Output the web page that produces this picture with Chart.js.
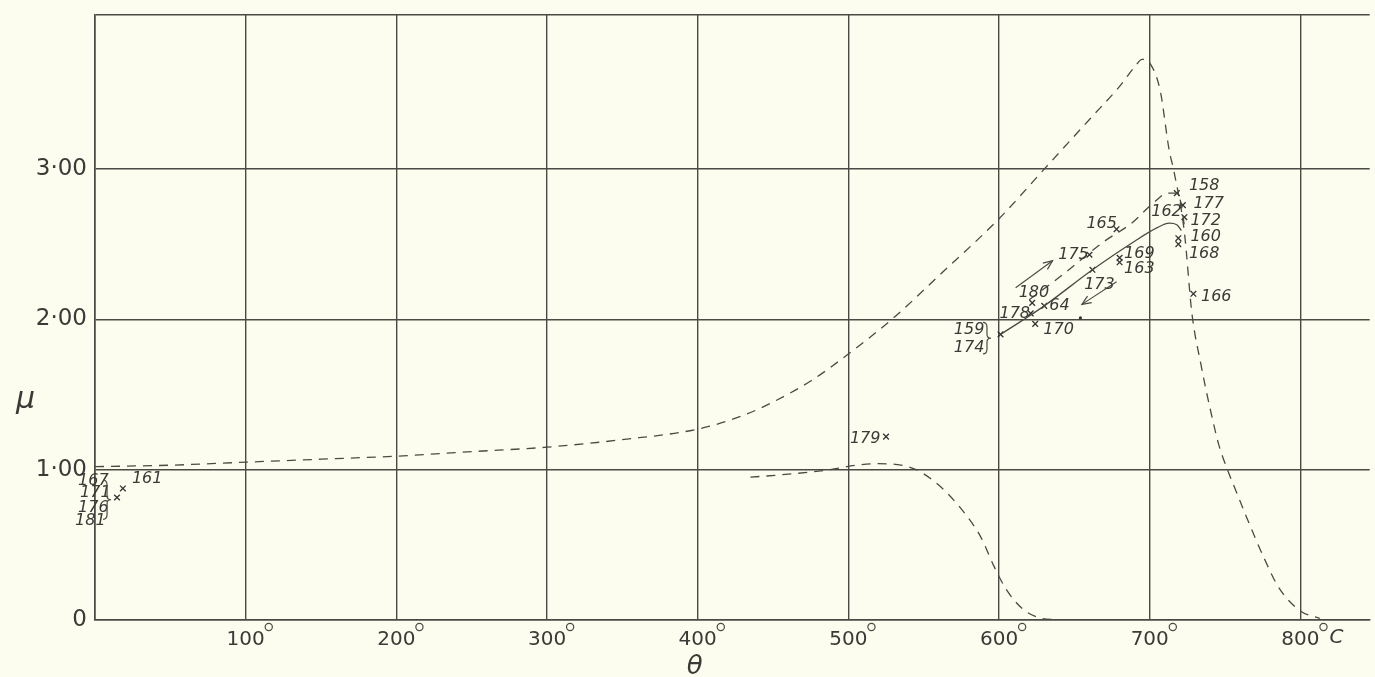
<!DOCTYPE html>
<html>
<head>
<meta charset="utf-8">
<script src="https://cdn.jsdelivr.net/npm/chart.js@4.4.1/dist/chart.umd.min.js"></script>
<style>
body { margin: 0; background: #fdfdef; }
canvas { display: block; }
</style>
</head>
<body>
<canvas id="grafico" width="1375" height="677"></canvas>
<script>
// axes: temperature theta (deg C) and permeability mu
var xTicks = [0, 100, 200, 300, 400, 500, 600, 700, 800];
var yTicks = [0, 1, 2, 3];
var xMax = 846;
var yMax = 4.025;

// upper dashed curve
var upperTheta = [0, 50, 100, 150, 200, 250, 300, 350, 400, 430, 450, 475, 500, 530, 560, 600, 630, 660, 680, 690, 695, 701, 707, 713, 716, 723, 728, 734, 740, 746, 752, 758, 764, 776, 786, 800, 813];
var upperMu    = [1.02, 1.03, 1.05, 1.07, 1.09, 1.12, 1.15, 1.20, 1.27, 1.36, 1.45, 1.59, 1.77, 2.01, 2.29, 2.67, 3.00, 3.33, 3.55, 3.68, 3.73, 3.69, 3.52, 3.12, 2.99, 2.58, 2.04, 1.70, 1.41, 1.16, 0.99, 0.84, 0.69, 0.41, 0.21, 0.06, 0.01];

// lower dashed curve
var lowerTheta = [435, 460, 488, 505, 520, 535, 545, 556, 566, 578, 588, 597, 605, 615, 625, 640];
var lowerMu    = [0.95, 0.97, 1.00, 1.03, 1.04, 1.03, 1.00, 0.93, 0.84, 0.70, 0.55, 0.35, 0.20, 0.08, 0.02, 0.0];

// middle dashed curve (162)
var midTheta = [620, 640, 670, 688, 703, 712, 718, 721, 723];
var midMu    = [2.13, 2.28, 2.52, 2.64, 2.78, 2.84, 2.84, 2.76, 2.62];

// solid curve
var solidTheta = [601, 615, 630, 662, 690, 705, 713, 718, 721];
var solidMu    = [1.90, 1.99, 2.09, 2.33, 2.52, 2.61, 2.64, 2.63, 2.59];

// observations (x marks)
var markTheta = [18.5, 14.6, 525, 601, 621, 622, 630, 624, 660, 662, 680, 680, 678, 718, 722, 723, 719, 719, 729];
var markMu    = [0.875, 0.815, 1.22, 1.90, 2.04, 2.11, 2.09, 1.97, 2.43, 2.33, 2.41, 2.38, 2.60, 2.84, 2.76, 2.68, 2.54, 2.50, 2.17];

// heating / cooling arrows
var arrowUpTheta = [611, 635.5];
var arrowUpMu = [2.21, 2.39];
var arrowDownTheta = [678, 655];
var arrowDownMu = [2.25, 2.10];

// small dot
var dotTheta = [654];
var dotMu = [2.01];

// specimen numbers
var labelText  = ['161', '167', '171', '176', '181', '179', '159', '174', '178', '180', '64', '170', '175', '173', '169', '163', '165', '162', '158', '177', '172', '160', '168', '166'];
var labelTheta = [24.5, -11.2, -9.9, -11.2, -13.2, 501, 570, 570, 600.3, 613, 633.4, 629.4, 639.3, 656.5, 683, 683, 658, 701, 726, 729, 727, 727, 726, 734];
var labelMu    = [0.91, 0.90, 0.82, 0.72, 0.63, 1.18, 1.90, 1.78, 2.01, 2.15, 2.06, 1.90, 2.40, 2.20, 2.41, 2.31, 2.61, 2.69, 2.86, 2.74, 2.63, 2.52, 2.41, 2.12];

// braces: theta, mu top, mu bottom
var braceTheta = [8, 592];
var braceTop = [0.93, 1.98];
var braceBottom = [0.67, 1.77];

var INK = '#4a4a44';
var FONT = "'DejaVu Sans', sans-serif";

function pts(xs, ys) {
    return xs.map(function (v, i) { return { x: v, y: ys[i] }; });
}

function drawBrace(ctx, cx, top, bottom) {
    var mid = (top + bottom) / 2;
    ctx.beginPath();
    ctx.moveTo(cx - 4, top);
    ctx.quadraticCurveTo(cx, top, cx, top + 5);
    ctx.lineTo(cx, mid - 4);
    ctx.quadraticCurveTo(cx, mid, cx + 4, mid);
    ctx.quadraticCurveTo(cx, mid, cx, mid + 4);
    ctx.lineTo(cx, bottom - 5);
    ctx.quadraticCurveTo(cx, bottom, cx - 4, bottom);
    ctx.stroke();
}

function arrowHead(ctx, x0, y0, x1, y1) {
    var a = Math.atan2(y1 - y0, x1 - x0);
    var L = 10;
    ctx.beginPath();
    ctx.moveTo(x1 - L * Math.cos(a - 0.4), y1 - L * Math.sin(a - 0.4));
    ctx.lineTo(x1, y1);
    ctx.lineTo(x1 - L * Math.cos(a + 0.4), y1 - L * Math.sin(a + 0.4));
    ctx.stroke();
}

var extras = {
    id: 'extras',
    beforeDraw: function (chart) {
        var ctx = chart.ctx;
        ctx.save();
        ctx.fillStyle = '#fdfdef';
        ctx.fillRect(0, 0, chart.width, chart.height);
        ctx.restore();
    },
    afterDraw: function (chart) {
        var ctx = chart.ctx, sx = chart.scales.x, sy = chart.scales.y;
        ctx.save();
        ctx.strokeStyle = INK;
        ctx.fillStyle = '#3a3a36';
        ctx.lineWidth = 1.2;

        // degree signs after x tick numbers
        ctx.font = '20px ' + FONT;
        xTicks.forEach(function (v) {
            if (v === 0) return;
            var w = ctx.measureText(String(v)).width;
            var px = sx.getPixelForValue(v) + w / 2 + 4;
            ctx.beginPath();
            ctx.arc(px, 627, 3.6, 0, Math.PI * 2);
            ctx.stroke();
            if (v === 800) {
                ctx.font = 'italic 20px ' + FONT;
                ctx.fillText('C', px + 6, 643);
                ctx.font = '20px ' + FONT;
            }
        });

        // axis letters
        ctx.font = 'italic 30px ' + FONT;
        ctx.fillText('\u03bc', 16, 408);
        ctx.font = 'italic 26px ' + FONT;
        ctx.textAlign = 'center';
        ctx.fillText('\u03b8', sx.getPixelForValue(398), 674);
        ctx.textAlign = 'left';

        // specimen numbers
        ctx.font = 'italic 16px ' + FONT;
        labelText.forEach(function (t, i) {
            ctx.fillText(t, sx.getPixelForValue(labelTheta[i]), sy.getPixelForValue(labelMu[i]));
        });

        // braces
        braceTheta.forEach(function (b, i) {
            drawBrace(ctx, sx.getPixelForValue(b), sy.getPixelForValue(braceTop[i]), sy.getPixelForValue(braceBottom[i]));
        });

        // arrow heads
        arrowHead(ctx, sx.getPixelForValue(arrowUpTheta[0]), sy.getPixelForValue(arrowUpMu[0]),
            sx.getPixelForValue(arrowUpTheta[1]), sy.getPixelForValue(arrowUpMu[1]));
        arrowHead(ctx, sx.getPixelForValue(arrowDownTheta[0]), sy.getPixelForValue(arrowDownMu[0]),
            sx.getPixelForValue(arrowDownTheta[1]), sy.getPixelForValue(arrowDownMu[1]));
        ctx.restore();
    }
};

function curve(data, dash) {
    return {
        data: data,
        showLine: true,
        borderColor: INK,
        borderWidth: 1.3,
        borderDash: dash,
        pointRadius: 0,
        cubicInterpolationMode: 'monotone',
        fill: false
    };
}

var ctx = document.getElementById('grafico').getContext('2d');
var grafico = new Chart(ctx, {
    type: 'scatter',
    data: {
        datasets: [
            curve(pts(upperTheta, upperMu), [9, 7]),
            curve(pts(lowerTheta, lowerMu), [9, 7]),
            curve(pts(midTheta, midMu), [9, 7]),
            curve(pts(solidTheta, solidMu), []),
            Object.assign(curve(pts(arrowUpTheta, arrowUpMu), []), { cubicInterpolationMode: 'default', tension: 0, borderWidth: 1.1 }),
            Object.assign(curve(pts(arrowDownTheta, arrowDownMu), []), { cubicInterpolationMode: 'default', tension: 0, borderWidth: 1.1 }),
            {
                data: pts(markTheta, markMu),
                pointStyle: 'crossRot',
                pointRadius: 4,
                borderColor: '#333',
                borderWidth: 1.3
            },
            {
                data: pts(dotTheta, dotMu),
                pointStyle: 'circle',
                pointRadius: 1.6,
                backgroundColor: '#333',
                borderWidth: 0
            }
        ]
    },
    options: {
        responsive: false,
        animation: false,
        events: [],
        layout: { padding: { top: 15, right: 0, left: 0, bottom: 0 } },
        plugins: { legend: { display: false }, tooltip: { enabled: false } },
        scales: {
            x: {
                min: 0,
                max: xMax,
                afterBuildTicks: function (scale) {
                    scale.ticks = xTicks.map(function (v) { return { value: v }; });
                },
                afterFit: function (scale) {
                    scale.height = 57;
                    scale.paddingLeft = 0;
                    scale.paddingRight = 0;
                },
                grid: { color: INK, lineWidth: 1.4, drawTicks: false },
                border: { color: INK, width: 1.6 },
                ticks: {
                    padding: 8,
                    color: '#3a3a36',
                    font: { family: FONT, size: 20 },
                    maxRotation: 0,
                    autoSkip: false,
                    callback: function (v) { return v === 0 ? '' : String(v); }
                }
            },
            y: {
                min: 0,
                max: yMax,
                afterBuildTicks: function (scale) {
                    scale.ticks = yTicks.concat([yMax]).map(function (v) { return { value: v }; });
                },
                afterFit: function (scale) {
                    scale.width = 95;
                    scale.paddingTop = 0;
                    scale.paddingBottom = 0;
                },
                grid: { color: INK, lineWidth: 1.4, drawTicks: false },
                border: { color: INK, width: 1.6 },
                ticks: {
                    padding: 8,
                    color: '#3a3a36',
                    font: { family: FONT, size: 23 },
                    autoSkip: false,
                    callback: function (v) {
                        if (v === 0) return '0';
                        if (v > 3.5) return '';
                        return v.toFixed(2).replace('.', '\u00b7');
                    }
                }
            }
        }
    },
    plugins: [extras]
});
</script>
</body>
</html>
